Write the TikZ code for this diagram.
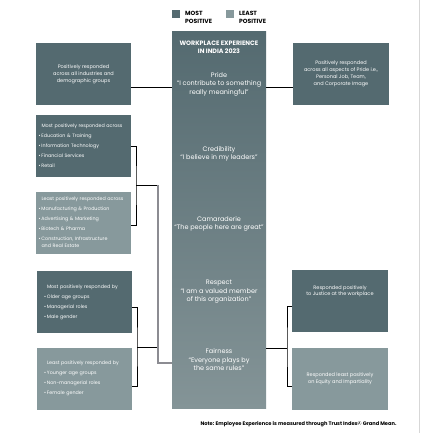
\documentclass[tikz,border=0pt]{standalone}
\usepackage{fontspec}
\setmainfont{Poppins}
\usetikzlibrary{positioning,calc}
\definecolor{wpDark}  {RGB}{84, 106, 112}
\definecolor{wpLight} {RGB}{135, 153, 156}
\definecolor{wpBottom}{RGB}{132, 148, 151}
\definecolor{wpGray}  {RGB}{140, 140, 146}
\definecolor{wpEdge}  {RGB}{215, 215, 215}
\newcommand{\bul}{\leavevmode\llap{\textbullet\,}}

\begin{document}
\begin{tikzpicture}[x=1pt,y=-1pt,
    box/.style={minimum width=95pt,minimum height=62pt,inner sep=0pt,text=white,
      font=\fontsize{5}{7}\selectfont,align=center},
    mostbox/.style={box,fill=wpDark},
    leastbox/.style={box,fill=wpLight},
    listbox/.style={align=left,text width=84pt,inner xsep=5.5pt,
      font=\fontsize{4.8}{10}\selectfont},
    coltext/.style={text=white,align=center,font=\fontsize{6.5}{8.5}\selectfont},
    keytext/.style={font=\fontsize{6}{8}\selectfont\bfseries,align=left,anchor=west},
    link/.style={draw=black,line width=0.9pt},
    trunk/.style={draw=wpGray,line width=1.6pt}]
  \useasboundingbox (0,0) rectangle (420,433);
  \draw[wpEdge,line width=0.8pt] (419.5,0) -- (419.5,433);

  % legend
  \node[fill=wpDark,minimum size=8pt,inner sep=0pt] (keyMost) at (176,14) {};
  \node[keytext,right=1.5pt of keyMost.east,anchor=west,yshift=-3pt] (keyMostTxt) {MOST\\POSITIVE};
  \node[fill=wpLight,minimum size=8pt,inner sep=0pt] (keyLeast) at (230,14) {};
  \node[keytext,right=1.5pt of keyLeast.east,anchor=west,yshift=-3pt] (keyLeastTxt) {LEAST\\POSITIVE};

  % central column
  \node[minimum width=94pt,minimum height=376pt,inner sep=0pt,
        top color=wpDark,bottom color=wpBottom] (col) at (219,220) {};
  \node[coltext,font=\fontsize{6.3}{8.5}\selectfont\bfseries] (title) at (219,47.5)
    {WORKPLACE EXPERIENCE\\IN INDIA 2023};
  \node[coltext] (pride) at (219,84) {Pride\\``I contribute to something\\really meaningful''};
  \node[coltext] (cred)  at (219,154) {Credibility\\``I believe in my leaders''};
  \node[coltext] (cama)  at (219,224) {Camaraderie\\``The people here are great''};
  \node[coltext] (resp)  at (219,292) {Respect\\``I am a valued member\\of this organization''};
  \node[coltext] (fair)  at (219,360) {Fairness\\``Everyone plays by\\the same rules''};

  % left side
  \node[mostbox] (allGroups) at (83.5,74)
    {Positively responded\\across all industries and\\demographic groups};
  \node[mostbox,listbox] (mostAcross) at (83.5,146)
    {Most positively responded across\\
     \bul Education \& Training\\
     \bul Information Technology\\
     \bul Financial Services\\
     \bul Retail};
  \node[leastbox,listbox] (leastAcross) at (83.5,222.5)
    {Least positively responded across\\
     \bul Manufacturing \& Production\\
     \bul Advertising \& Marketing\\
     \bul Biotech \& Pharma\\
     \bul Construction, Infrastructure\\[-3pt]
     and Real Estate};
  \node[mostbox,listbox,inner xsep=10pt,text width=75pt] (mostBy) at (84.5,302)
    {Most positively responded by\\
     \bul Older age groups\\
     \bul Managerial roles\\
     \bul Male gender};
  \node[leastbox,listbox,inner xsep=10pt,text width=75pt] (leastBy) at (84.5,378.5)
    {Least positively responded by\\
     \bul Younger age groups\\
     \bul Non-managerial roles\\
     \bul Female gender};

  % right side
  \node[mostbox,minimum width=96pt] (prideAll) at (341,74)
    {Positively responded\\across all aspects of Pride i.e.,\\Personal Job, Team,\\and Corporate Image};
  \node[mostbox,minimum width=96pt] (justice) at (340,301) {};
  \node[text=white,align=center,font=\fontsize{5}{6.5}\selectfont] (justiceTxt) at (340,291)
    {Responded positively\\to Justice at the workplace};
  \node[leastbox,minimum width=96pt] (equity) at (340,379)
    {Responded least positively\\on Equity and Impartiality};

  % connectors
  \coordinate (prideY) at (0,87);
  \coordinate (fairY) at (0,363);
  \coordinate (j1) at (136,185);
  \coordinate (j2) at (137,347);
  \coordinate (j3) at (287,348);
  \coordinate (tx) at (158,0);
  \draw[link] (allGroups.east |- prideY) -- (col.west |- prideY);
  \draw[link] (col.east |- prideY) -- (prideAll.west |- prideY);
  \draw[link] (mostAcross.east) -| (j1) |- ([yshift=-3pt]leastAcross.east);
  \draw[link] ([yshift=-5pt]mostBy.east) -| (j2) |- ([yshift=-7.5pt]leastBy.east);
  \draw[link] (j1) -- (tx |- j1);
  \draw[link] (j2) -- (tx |- j2);
  \draw[trunk] (tx |- j1) -- (tx |- fairY) -- (col.west |- fairY);
  \draw[link] (col.east |- j3) -- (j3);
  \draw[link] ([yshift=-5pt]justice.west) -| (j3) |- ([yshift=-7pt]equity.west);

  \node[anchor=east,font=\fontsize{5.1}{6}\selectfont\bfseries] (note) at (400,424)
    {Note: Employee Experience is measured through Trust Index© Grand Mean.};
\end{tikzpicture}
\end{document}
